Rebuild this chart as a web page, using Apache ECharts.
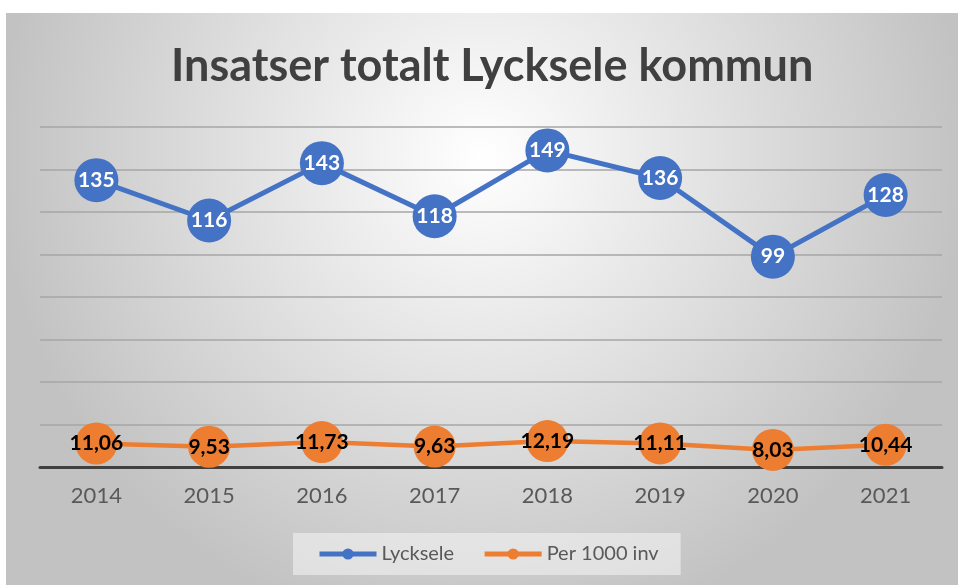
<!DOCTYPE html>
<html>
<head>
<meta charset="utf-8">
<script src="https://cdn.jsdelivr.net/npm/echarts@6/dist/echarts.min.js"></script>
<style>
  html, body { margin: 0; padding: 0; background: #fff; }
  #chart { position: absolute; left: 6px; top: 13px; width: 952px; height: 572px; }
</style>
</head>
<body>
<div id="chart"></div>
<script>
const years = ['2014', '2015', '2016', '2017', '2018', '2019', '2020', '2021'];
const lycksele = [135, 116, 143, 118, 149, 136, 99, 128];
const per1000 = [11.06, 9.53, 11.73, 9.63, 12.19, 11.11, 8.03, 10.44];

const chart = echarts.init(document.getElementById('chart'));
const fontFam = 'Lato, "Noto Sans", sans-serif';

chart.setOption({
    backgroundColor: {
        type: 'radial', x: 0.5, y: 0.25, r: 0.85,
        colorStops: [
            { offset: 0, color: '#ffffff' },
            { offset: 1, color: '#c2c2c2' }
        ]
    },
    title: {
        text: 'Insatser totalt Lycksele kommun',
        left: 160,
        top: 26,
        textStyle: { fontFamily: fontFam, fontSize: 45, fontWeight: 'bold', color: '#404040' }
    },
    grid: { left: 34, right: 16, top: 114, bottom: 118 },
    legend: {
        bottom: 10,
        left: 287,
        itemWidth: 57,
        itemHeight: 14,
        itemGap: 28,
        padding: [11, 22, 11, 24],
        backgroundColor: 'rgba(245,245,245,0.55)',
        lineStyle: { width: 5 },
        textStyle: { fontFamily: fontFam, fontSize: 20, color: '#595959' }
    },
    xAxis: {
        type: 'category',
        data: years,
        axisLine: { lineStyle: { color: '#404040', width: 3 } },
        axisTick: { show: false },
        axisLabel: { fontFamily: fontFam, fontSize: 22, color: '#595959', margin: 18 }
    },
    yAxis: {
        type: 'value',
        min: 0, max: 160, interval: 20,
        axisLabel: { show: false },
        axisLine: { show: false },
        axisTick: { show: false },
        splitLine: { lineStyle: { color: '#a6a6a6', width: 1.5 } }
    },
    series: [
        {
            name: 'Lycksele',
            type: 'line',
            data: lycksele,
            symbol: 'circle',
            symbolSize: 44,
            itemStyle: { color: '#4472C4' },
            lineStyle: { color: '#4472C4', width: 5 },
            label: {
                show: true, position: 'inside',
                fontFamily: fontFam, fontSize: 21, fontWeight: 'bold', color: '#ffffff'
            }
        },
        {
            name: 'Per 1000 inv',
            type: 'line',
            data: per1000,
            symbol: 'circle',
            symbolSize: 42,
            itemStyle: { color: '#ED7D31' },
            lineStyle: { color: '#ED7D31', width: 4.5 },
            label: {
                show: true, position: 'inside',
                fontFamily: fontFam, fontSize: 21, fontWeight: 'bold', color: '#000000',
                formatter: p => p.value.toFixed(2).replace('.', ',')
            }
        }
    ]
});
</script>
</body>
</html>
